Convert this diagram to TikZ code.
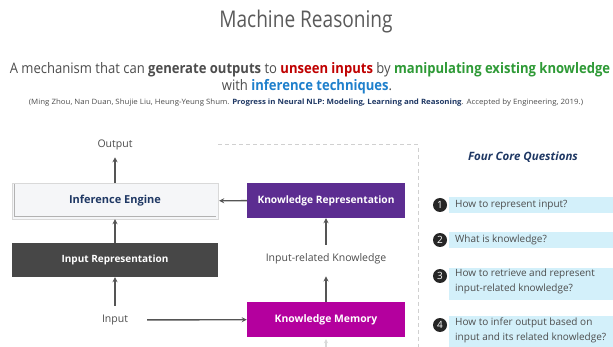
\documentclass[tikz,border=0pt]{standalone}
\usepackage{fontspec}
\setmainfont{Open Sans}
\newfontfamily\titlefont{Open Sans}[FakeStretch=0.83]
\newfontfamily\subfont{Open Sans}[FakeStretch=0.9]
\newfontfamily\citefont{Open Sans}[FakeStretch=1.08]
\usetikzlibrary{arrows.meta,shadows}
\definecolor{navy}{HTML}{1F3864}
\definecolor{txtgray}{HTML}{4D4D4D}
\definecolor{titlegray}{HTML}{5A5A5A}
\definecolor{redw}{HTML}{C00000}
\definecolor{greenw}{HTML}{2E9A36}
\definecolor{bluew}{HTML}{1F80CC}
\definecolor{irfill}{HTML}{474747}
\definecolor{krfill}{HTML}{5C2D91}
\definecolor{kmfill}{HTML}{B4009E}
\definecolor{iefill}{HTML}{F5F6F8}
\definecolor{arrgray}{HTML}{555555}
\definecolor{band}{HTML}{D3F0FA}
\definecolor{dashgray}{HTML}{D0D0D0}
\begin{document}
\begin{tikzpicture}[x=1pt,y=-1pt,
  box/.style={rectangle, inner sep=0pt, font=\fontsize{10.5}{13}\selectfont\bfseries},
  lbl/.style={inner sep=1pt, text=txtgray, font=\fontsize{10.5}{12}\selectfont},
  arr/.style={draw=arrgray, line width=1.4pt, -{Stealth[length=5pt,width=5pt]}},
  qtxt/.style={anchor=west, inner sep=0pt, text=txtgray, align=left, font=\fontsize{10}{15}\selectfont},
  num/.style={circle, fill=black!85, text=white, minimum size=14pt, inner sep=0pt, font=\fontsize{10}{10}\selectfont},
]
\useasboundingbox (0,0) rectangle (613,347);
\fill[white] (0,0) rectangle (613,347);

% title and subtitle
\node[text=titlegray, font=\fontsize{23}{28}\titlefont] (title) at (306,22) {Machine Reasoning};
\node[text=txtgray, font=\fontsize{14.5}{17}\subfont] (sub1) at (310,70) {A mechanism that can \textbf{generate outputs} to \textcolor{redw}{\textbf{unseen inputs}} by \textcolor{greenw}{\textbf{manipulating existing knowledge}}};
\node[text=txtgray, font=\fontsize{14.5}{17}\subfont] (sub2) at (307,87) {with \textcolor{bluew}{\textbf{inference techniques}}.};
\node[text=txtgray, font=\fontsize{7.3}{9}\citefont] (cite) at (306,103) {(Ming Zhou, Nan Duan, Shujie Liu, Heung-Yeung Shum. \textcolor{navy}{\textbf{Progress in Neural NLP: Modeling, Learning and Reasoning}}. Accepted by Engineering, 2019.)};

% dashed frame
\draw[dashgray, line width=1pt, dash pattern=on 4pt off 3pt] (218,145) -- (418,145) -- (418,347);

% left diagram
\node[box, fill=iefill, draw=black!15, text=navy, minimum width=206pt, minimum height=36pt, font=\fontsize{11}{13}\selectfont\bfseries,
      drop shadow={shadow xshift=0pt, shadow yshift=-1.5pt, opacity=0.25}] (ie) at (115,201) {Inference Engine};
\draw[black!30, line width=0.8pt] (14.5,184) -- (14.5,216.5) -- (216,216.5);
\node[box, fill=irfill, text=white, minimum width=206pt, minimum height=34pt, font=\fontsize{10}{12}\selectfont\bfseries] (ir) at (115,260) {Input Representation};
\node[box, fill=krfill, text=white, minimum width=158pt, minimum height=35pt, font=\fontsize{10.2}{12}\selectfont\bfseries] (kr) at (326,200.5) {Knowledge Representation};
\node[box, fill=kmfill, text=white, minimum width=158pt, minimum height=35pt, font=\fontsize{10.4}{12}\selectfont\bfseries] (km) at (326,319.5) {Knowledge Memory};

\node[lbl] (out) at (115,145) {Output};
\node[lbl] (in) at (115,320) {Input};
\node[lbl] (irk) at (326,259) {Input-related Knowledge};
\coordinate (bot) at (326,350);

\draw[arr, shorten <=8pt] (in) -- (ir) ;
\draw[arr] (ir) -- (ie);
\draw[arr, shorten >=6pt] (ie) -- (out);
\draw[arr, shorten <=18pt] (in) -- (km);
\draw[arr, shorten >=1pt] (kr) -- (ie);
\draw[arr, shorten >=11pt] (km) -- (irk);
\draw[arr, shorten <=8pt] (irk) -- (kr);
\draw[draw=black!15, line width=1.2pt, -{Stealth[length=4pt,width=4pt]}, shorten >=2pt] (bot) -- (km);

% right panel
\node[text=navy, font=\fontsize{11.5}{14}\selectfont\bfseries\itshape] (fcq) at (523,157) {Four Core Questions};

\fill[band] (449,197) rectangle (613,213);
\fill[band] (449,232) rectangle (613,248);
\fill[band] (449,268) rectangle (613,300);
\fill[band] (449,316) rectangle (613,347);

\node[num] (n1) at (440,205) {1};
\node[num] (n2) at (440,240) {2};
\node[num] (n3) at (440,276) {3};
\node[num] (n4) at (440,325) {4};

\node[qtxt] (q1) at (455,205) {How to represent input?};
\node[qtxt] (q2) at (455,240) {What is knowledge?};
\node[qtxt, anchor=north west] (q3) at (455,269) {How to retrieve and represent\\input-related knowledge?};
\node[qtxt, anchor=north west] (q4) at (455,318) {How to infer output based on\\input and its related knowledge?};
\end{tikzpicture}
\end{document}
